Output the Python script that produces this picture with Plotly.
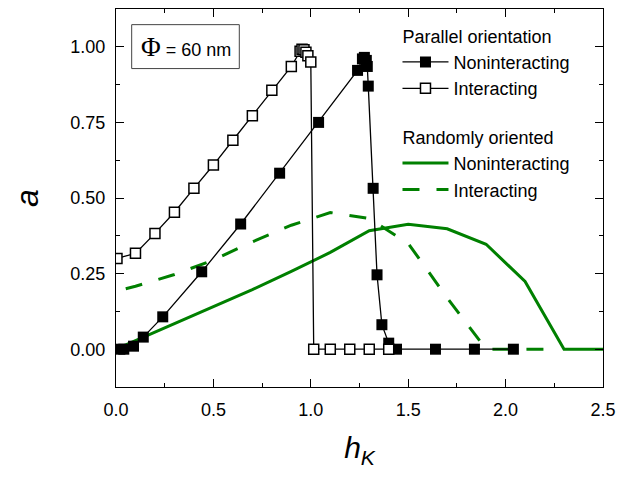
import plotly.graph_objects as go

# Parallel orientation, noninteracting (filled squares)
par_non_h = [0.02, 0.04, 0.09, 0.14, 0.24, 0.44, 0.64, 0.84, 1.04, 1.24, 1.265, 1.275,
             1.285, 1.29, 1.295, 1.32, 1.34, 1.365, 1.40, 1.44, 1.64, 1.84, 2.04]
par_non_a = [0.0, 0.0, 0.01, 0.04, 0.107, 0.256, 0.414, 0.582, 0.75, 0.922, 0.96, 0.965,
             0.955, 0.935, 0.87, 0.532, 0.246, 0.081, 0.02, 0.0, 0.0, 0.0, 0.0]

# Parallel orientation, interacting (open squares)
par_int_h = [0.005, 0.1, 0.2, 0.3, 0.4, 0.5, 0.6, 0.7, 0.8, 0.9, 0.945, 0.955, 0.965,
             0.975, 0.985, 1.0, 1.015, 1.1, 1.2, 1.3, 1.4]
par_int_a = [0.3, 0.317, 0.383, 0.453, 0.532, 0.609, 0.691, 0.772, 0.856, 0.935, 0.985,
             0.992, 0.99, 0.982, 0.97, 0.95, 0.0, 0.0, 0.0, 0.0, 0.0]

# Randomly oriented, noninteracting (solid green)
rnd_non_h = [0.0, 0.1, 0.3, 0.5, 0.7, 0.9, 1.1, 1.3, 1.5, 1.7, 1.9, 2.1, 2.3, 2.5]
rnd_non_a = [0.0, 0.028, 0.085, 0.14, 0.197, 0.257, 0.32, 0.392, 0.413, 0.398, 0.347,
             0.224, 0.0, 0.0]

# Randomly oriented, interacting (dashed green)
rnd_int_h = [0.05, 0.1, 0.3, 0.5, 0.7, 0.9, 1.1, 1.3, 1.5, 1.7, 1.9, 2.1, 2.2]
rnd_int_a = [0.2, 0.208, 0.247, 0.295, 0.355, 0.41, 0.452, 0.432, 0.35, 0.17, 0.0, 0.0, 0.0]

x_range = [0, 2.5]
y_range = [-0.125, 1.125]

GREEN = "#008000"
FONT = "Liberation Sans, Arial, sans-serif"

fig = go.Figure()

fig.add_trace(go.Scatter(
    x=rnd_non_h, y=rnd_non_a, mode="lines", name="Noninteracting",
    line=dict(color=GREEN, width=3),
    legendgroup="rnd", legendgrouptitle=dict(text="Randomly oriented"), legendrank=3))
fig.add_trace(go.Scatter(
    x=rnd_int_h, y=rnd_int_a, mode="lines", name="Interacting",
    line=dict(color=GREEN, width=3, dash="17px,17px"),
    legendgroup="rnd", legendrank=4))
fig.add_trace(go.Scatter(
    x=par_non_h, y=par_non_a, mode="lines+markers", name="Noninteracting",
    line=dict(color="black", width=1.3),
    marker=dict(symbol="square", size=11, color="black", line=dict(width=0)),
    legendgroup="par", legendgrouptitle=dict(text="Parallel orientation"), legendrank=1))
fig.add_trace(go.Scatter(
    x=par_int_h, y=par_int_a, mode="lines+markers", name="Interacting",
    line=dict(color="black", width=1.3),
    marker=dict(symbol="square", size=10, color="white", line=dict(width=1.5, color="black")),
    legendgroup="par", legendrank=2))

axis_common = dict(
    showline=True, linecolor="black", linewidth=1.3, mirror="ticks",
    ticks="inside", ticklen=8, tickwidth=1.3, tickcolor="black",
    showgrid=False, zeroline=False,
    tickfont=dict(family=FONT, size=18, color="black"),
)

fig.update_xaxes(range=x_range, dtick=0.5, tickformat=".1f",
                 minor=dict(ticks="inside", ticklen=4, dtick=0.25, tickcolor="black", tickwidth=1.3),
                 title=dict(text="<i>h</i><sub><i>K</i></sub>", font=dict(family=FONT, size=30, color="black"), standoff=18),
                 ticklabelstandoff=6,
                 **axis_common)
fig.update_yaxes(range=y_range, dtick=0.25, tickformat=".2f",
                 minor=dict(ticks="inside", ticklen=4, dtick=0.125, tickcolor="black", tickwidth=1.3),
                 title=dict(text="<i>a</i>", font=dict(family=FONT, size=32, color="black"), standoff=22),
                 ticklabelstandoff=6,
                 **axis_common)

fig.add_shape(type="rect", xref="paper", yref="paper",
              x0=0.0322, x1=0.2532, y0=0.8424, y1=0.9586,
              line=dict(color="#444444", width=1), fillcolor="rgba(0,0,0,0)")
fig.add_annotation(xref="paper", yref="paper", x=0.1437, y=0.8986,
                   xanchor="center", yanchor="middle", showarrow=False,
                   text="<span style='font-family:Liberation Serif, Times New Roman, serif; font-size:27px'>Φ</span> = 60 nm",
                   font=dict(family=FONT, size=18, color="black"))

fig.update_layout(
    width=636, height=478,
    margin=dict(l=116, r=33, t=9, b=91),
    paper_bgcolor="white", plot_bgcolor="white",
    font=dict(family=FONT, size=18, color="black"),
    showlegend=True,
    legend=dict(x=0.578, y=0.978, xanchor="left", yanchor="top",
                bgcolor="rgba(0,0,0,0)", borderwidth=0,
                font=dict(family=FONT, size=18, color="black"),
                grouptitlefont=dict(family=FONT, size=18, color="black"),
                traceorder="grouped", tracegroupgap=22, itemwidth=46),
)

fig.write_html("out.html")
